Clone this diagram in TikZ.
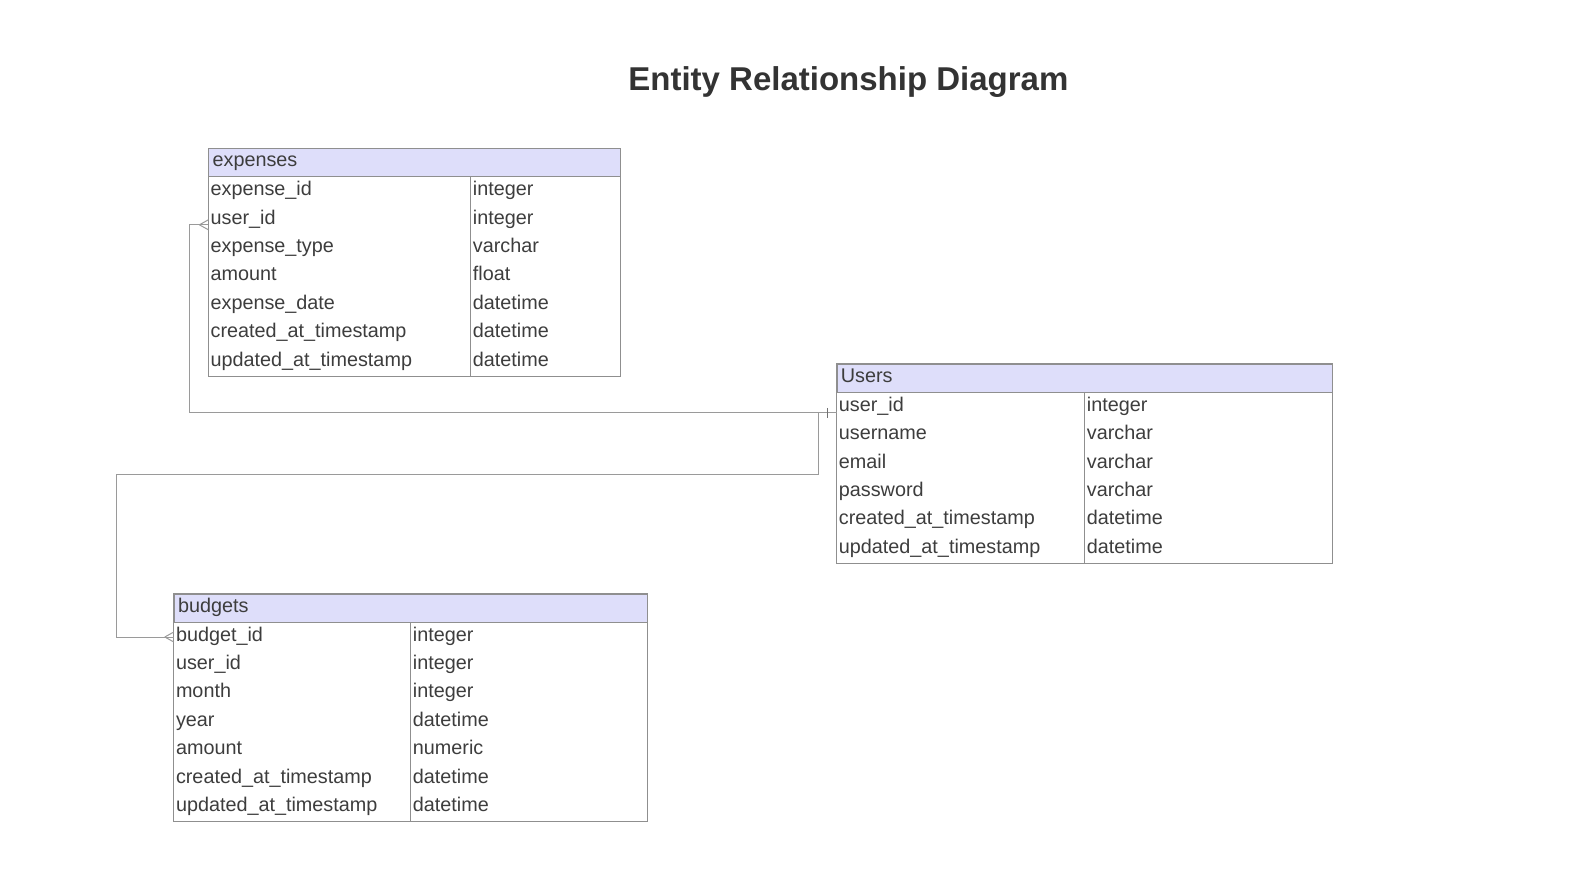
\documentclass[tikz,border=0pt]{standalone}
\usepackage{fontspec}
\setmainfont{Liberation Sans}
\usetikzlibrary{calc}
\definecolor{hdrfill}{HTML}{DEDEFA}
\definecolor{bordc}{HTML}{8F8F8F}
\definecolor{txtc}{HTML}{3D3D3D}
\definecolor{titlec}{HTML}{333333}
\definecolor{linec}{HTML}{9A9A9A}
\tikzset{
  hdrbox/.style={draw=bordc, fill=hdrfill, line width=0.9pt, minimum height=28, anchor=north west, inner sep=0},
  rowbox/.style={minimum height=28.4, anchor=north west, inner sep=0},
  celltxt/.style={anchor=base west, inner sep=0, text=txtc, font=\fontsize{19.8}{24}\selectfont},
  border/.style={draw=bordc, line width=0.9pt},
  conn/.style={draw=linec, line width=1pt},
}
% #1 name, #2 x, #3 y, #4 width, #5 col1 width, #6 nrows, #7 title, #8 rows
\newcommand\erdtab[8]{%
  \node[hdrbox, minimum width=#4] (#1) at (#2,#3) {};
  \node[celltxt] (#1-title) at ([xshift=4pt,yshift=-4pt]#1.west) {#7};
  \foreach \a/\b [count=\i] in {#8} {
    \node[rowbox, minimum width=#4] (#1-\i) at ($(#1.south west)+(0,{(\i-1)*28.4})$) {};
    \node[celltxt] (#1-\i-k) at ([xshift=2pt,yshift=-4pt]#1-\i.west) {\a};
    \node[celltxt] (#1-\i-t) at ([xshift=#5pt+2pt,yshift=-4pt]#1-\i.west) {\b};
  }
  \draw[border] (#1.north west) rectangle (#1-#6.south east);
  \draw[border] ([xshift=#5pt]#1.south west) -- ([xshift=#5pt]#1-#6.south west);
}
\begin{document}
\begin{tikzpicture}[x=1pt,y=-1pt]
\useasboundingbox (0,0) rectangle (1594,874);
\node[font=\fontsize{33}{40}\selectfont\bfseries, text=titlec] (title) at (848.4,82.3) {Entity Relationship Diagram};

\erdtab{exp}{208.4}{148.4}{411.7}{262.3}{7}{expenses}{%
  expense\_id/integer, user\_id/integer, expense\_type/varchar, amount/float,
  expense\_date/datetime, created\_at\_timestamp/datetime, updated\_at\_timestamp/datetime}
\erdtab{users}{836.7}{363.9}{495}{248}{6}{Users}{%
  user\_id/integer, username/varchar, email/varchar, password/varchar,
  created\_at\_timestamp/datetime, updated\_at\_timestamp/datetime}
\erdtab{bud}{173.8}{593.7}{472.8}{236.9}{7}{budgets}{%
  budget\_id/integer, user\_id/integer, month/integer, year/datetime,
  amount/numeric, created\_at\_timestamp/datetime, updated\_at\_timestamp/datetime}

% connection points
\coordinate (U) at ([yshift=-5.6pt]users-1.west);
\coordinate (E) at ([yshift=-4.7pt]exp-2.west);
\coordinate (B) at (bud-1.west);
\coordinate (ubr) at ([xshift=-18.3pt]U);
\coordinate (bend) at (116.9,474.8);

% users -> expenses
\draw[conn] (U) -| ([xshift=-19.3pt]E) -- (E);
% users -> budgets
\draw[conn] (ubr) -- (ubr |- bend) -- (bend) -- (bend |- B) -- (B);

% one mark at users
\draw[conn, draw=bordc!80!black] ([xshift=-9pt,yshift=5pt]U) -- ([xshift=-9pt,yshift=-5pt]U);
% many marks
\draw[conn] ([xshift=-9pt]E) -- ([yshift=5pt]E);
\draw[conn] ([xshift=-9pt]E) -- ([yshift=-5pt]E);
\draw[conn] ([xshift=-9pt]B) -- ([yshift=5pt]B);
\draw[conn] ([xshift=-9pt]B) -- ([yshift=-5pt]B);
\end{tikzpicture}
\end{document}
